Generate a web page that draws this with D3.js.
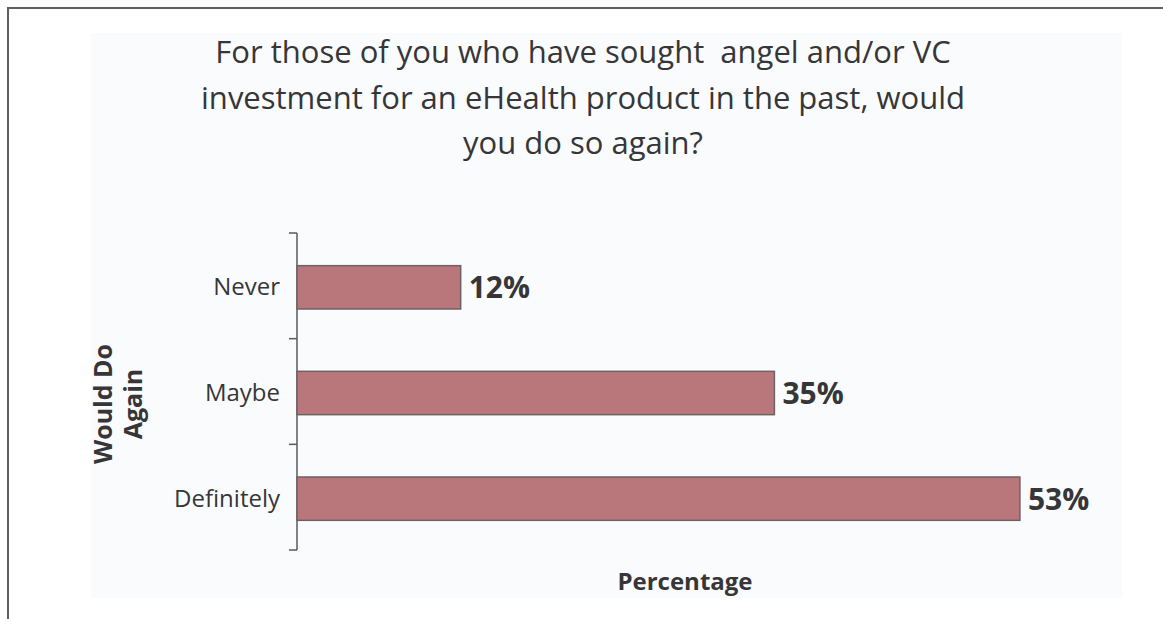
<!DOCTYPE html>
<html>
<head>
<meta charset="utf-8">
<script src="https://cdn.jsdelivr.net/npm/d3@7"></script>
<style>
  html, body { margin: 0; padding: 0; background: #ffffff; }
  svg { display: block; }
  text { font-family: "Open Sans", "Noto Sans", sans-serif; fill: #363638; }
</style>
</head>
<body>
<svg id="chart" width="1163" height="619"></svg>
<script>
// Survey responses: share of respondents per answer
const categories = ["Never", "Maybe", "Definitely"];
const values = [12, 35, 53];
const valueLabels = ["12%", "35%", "53%"];
const titleLines = [
  "For those of you who have sought  angel and/or VC",
  "investment for an eHealth product in the past, would",
  "you do so again?"
];
const yTitleLines = ["Would Do", "Again"];
const xTitle = "Percentage";

const svg = d3.select("#chart");

// page frame (top and left rules)
svg.append("path")
  .attr("d", "M8,619V8H1163")
  .attr("fill", "none")
  .attr("stroke", "#5f5f5f")
  .attr("stroke-width", 2);

// chart panel
svg.append("rect")
  .attr("x", 91).attr("y", 33)
  .attr("width", 1031).attr("height", 565)
  .attr("fill", "#fafbfd");

// title
svg.append("text")
  .attr("text-anchor", "middle")
  .attr("font-size", 31)
  .attr("fill", "#3a3b3d")
  .attr("xml:space", "preserve")
  .selectAll("tspan")
  .data(titleLines)
  .join("tspan")
  .attr("x", 583)
  .attr("y", (d, i) => 63 + i * 45.5)
  .text(d => d);

// scales
const x = d3.scaleLinear().domain([0, 60]).range([297, 297 + 60 * 13.64]);
const y = d3.scaleBand().domain(categories).range([233, 550]).padding(0);
const barH = y.bandwidth() * 0.41;

// y axis spine with ticks at band boundaries
const bounds = categories.map(c => y(c)).concat([y.range()[1]]);
const axisG = svg.append("g");
axisG.append("line")
  .attr("x1", x(0)).attr("x2", x(0))
  .attr("y1", bounds[0]).attr("y2", bounds[bounds.length - 1])
  .attr("stroke", "#5a5a5a").attr("stroke-width", 1.5);
axisG.selectAll("line.tick")
  .data(bounds)
  .join("line")
  .attr("class", "tick")
  .attr("x1", x(0) - 8).attr("x2", x(0))
  .attr("y1", d => d).attr("y2", d => d)
  .attr("stroke", "#5a5a5a").attr("stroke-width", 1.5);

// category labels
svg.append("g").selectAll("text")
  .data(categories)
  .join("text")
  .attr("x", x(0) - 17)
  .attr("y", d => y(d) + y.bandwidth() / 2 + 9.5)
  .attr("text-anchor", "end")
  .attr("font-size", 24)
  .text(d => d);

// bars
svg.append("g").selectAll("rect")
  .data(values)
  .join("rect")
  .attr("x", x(0))
  .attr("y", (d, i) => y(categories[i]) + (y.bandwidth() - barH) / 2 + 1.5)
  .attr("width", d => x(d) - x(0))
  .attr("height", barH)
  .attr("fill", "#ba777b")
  .attr("stroke", "#6e6163")
  .attr("stroke-width", 1.5);

// value labels
svg.append("g").selectAll("text")
  .data(values)
  .join("text")
  .attr("x", d => x(d) + 8)
  .attr("y", (d, i) => y(categories[i]) + y.bandwidth() / 2 + 12.5)
  .attr("font-size", 30)
  .attr("font-weight", 700)
  .text((d, i) => valueLabels[i]);

// y axis title (rotated, two lines)
svg.append("text")
  .attr("transform", "translate(112,404) rotate(-90)")
  .attr("text-anchor", "middle")
  .attr("font-size", 25)
  .attr("font-weight", 700)
  .selectAll("tspan")
  .data(yTitleLines)
  .join("tspan")
  .attr("x", 0)
  .attr("dy", (d, i) => i === 0 ? 0 : 30)
  .text(d => d);

// x axis title
svg.append("text")
  .attr("x", 685)
  .attr("y", 590)
  .attr("text-anchor", "middle")
  .attr("font-size", 24)
  .attr("font-weight", 700)
  .text(xTitle);
</script>
</body>
</html>
